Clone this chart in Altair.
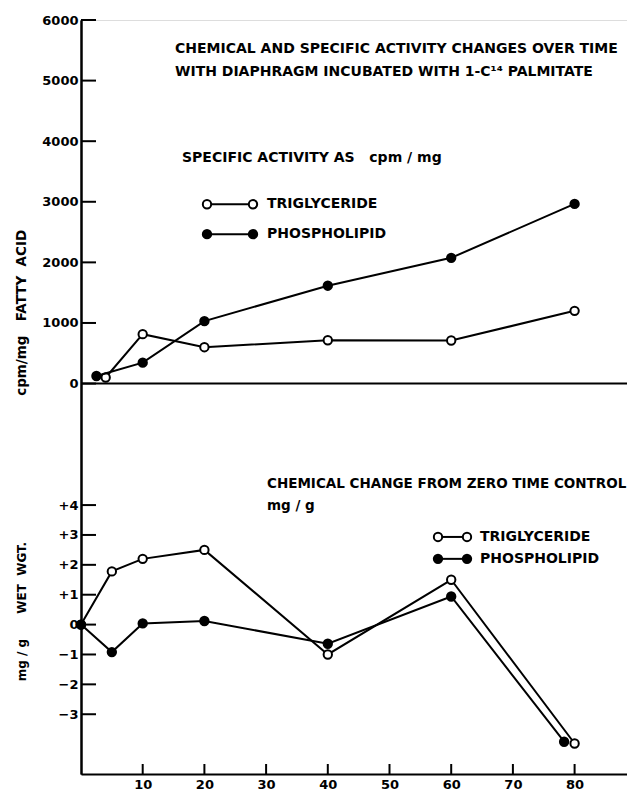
import altair as alt
import pandas as pd

# ---------------- data ----------------
time_tg_sa = [4, 10, 20, 40, 60, 80]
tg_sa = [100, 815, 600, 715, 710, 1200]
time_pl_sa = [2.5, 10, 20, 40, 60, 80]
pl_sa = [125, 345, 1030, 1615, 2075, 2965]

time_tg_ch = [0, 5, 10, 20, 40, 60, 80]
tg_ch = [0, 1.78, 2.2, 2.5, -1.0, 1.5, -3.98]
time_pl_ch = [0, 5, 10, 20, 40, 60, 78.3]
pl_ch = [0, -0.92, 0.04, 0.12, -0.64, 0.94, -3.92]

top_ticks = [0, 1000, 2000, 3000, 4000, 5000, 6000]
bot_ticks = [-3, -2, -1, 0, 1, 2, 3, 4]
x_ticks = [10, 20, 30, 40, 50, 60, 70, 80]

# ---------------- layout ----------------
REF_H = 757.0
W, H = 546, 754
S = H / REF_H
FONT = "DejaVu Sans"
NB = "\u00a0"
X_DOMAIN = [0, W / 6.17]
TOP_ZERO_PX = 365 * S
TOP_DOMAIN = [-(H - TOP_ZERO_PX) / TOP_ZERO_PX * 6000, 6000]
BOT_ZERO_PX = 607 * S
PX_PER = 30.0 * S
BOT_DOMAIN = [-(H - BOT_ZERO_PX) / PX_PER, BOT_ZERO_PX / PX_PER]

xs = alt.Scale(domain=X_DOMAIN, nice=False, zero=False)
ys_top = alt.Scale(domain=TOP_DOMAIN, nice=False, zero=False)
ys_bot = alt.Scale(domain=BOT_DOMAIN, nice=False, zero=False)

AX = dict(ticks=False, domain=True, domainColor="black", domainWidth=2,
          labelFont=FONT, labelFontWeight="bold", labelFontSize=13,
          labelColor="black", title=None, grid=False, labelFlush=False)
X_AXIS = alt.Axis(values=x_ticks, labelPadding=4, orient="bottom", **AX)

df_tg_sa = pd.DataFrame({"t": time_tg_sa, "v": tg_sa})
df_pl_sa = pd.DataFrame({"t": time_pl_sa, "v": pl_sa})
df_tg_ch = pd.DataFrame({"t": time_tg_ch, "v": tg_ch})
df_pl_ch = pd.DataFrame({"t": time_pl_ch, "v": pl_ch})
one = pd.DataFrame({"a": [0]})

def X():
    return alt.X("t:Q", scale=xs, axis=X_AXIS)

def series(df, ys, filled):
    line = alt.Chart(df).mark_line(color="black", strokeWidth=2).encode(
        x=X(), y=alt.Y("v:Q", scale=ys, axis=None))
    pts = alt.Chart(df).mark_point(
        shape="circle", filled=True, fill="black" if filled else "white",
        stroke="black", strokeWidth=2, size=70, opacity=1).encode(
        x=X(), y=alt.Y("v:Q", scale=ys, axis=None))
    return [line, pts]

layers = []

# x axis with inward ticks
layers.append(alt.Chart(pd.DataFrame({"t": x_ticks})).mark_rule(color="black", strokeWidth=2).encode(
    x=X(), y=alt.value(H), y2=alt.value(H - 10)))

# top y axis with inward ticks
layers.append(alt.Chart(pd.DataFrame({"v": top_ticks})).mark_rule(color="black", strokeWidth=2).encode(
    x=alt.value(0), x2=alt.value(15),
    y=alt.Y("v:Q", scale=ys_top, axis=alt.Axis(
        values=top_ticks, format="d", labelPadding=3, orient="left", **AX))))

# bottom y axis with inward ticks
layers.append(alt.Chart(pd.DataFrame({"v": bot_ticks})).mark_rule(color="black", strokeWidth=2).encode(
    x=alt.value(0), x2=alt.value(15),
    y=alt.Y("v:Q", scale=ys_bot, axis=alt.Axis(
        values=bot_ticks, format="d", labelPadding=3, orient="left",
        labelExpr="datum.value > 0 ? '+' + datum.label : datum.label", **AX))))

# top panel baseline at zero
layers.append(alt.Chart(pd.DataFrame({"v": [0]})).mark_rule(color="black", strokeWidth=2).encode(
    x=alt.value(0), x2=alt.value(W), y=alt.Y("v:Q", scale=ys_top, axis=None)))

layers += series(df_tg_sa, ys_top, False)
layers += series(df_pl_sa, ys_top, True)
layers += series(df_tg_ch, ys_bot, False)
layers += series(df_pl_ch, ys_bot, True)

# ---------------- annotations ----------------
def txt(s, x, y, size=14, angle=0, align="left"):
    return alt.Chart(one).mark_text(
        text=s, font=FONT, fontWeight="bold", fontSize=size, color="black",
        align=align, baseline="middle", angle=angle).encode(
        x=alt.value(x), y=alt.value(y * S))

layers.append(txt("CHEMICAL AND SPECIFIC ACTIVITY CHANGES OVER TIME", 94, 29))
layers.append(txt("WITH DIAPHRAGM INCUBATED WITH 1-C¹⁴ PALMITATE", 94, 52))
layers.append(txt("SPECIFIC ACTIVITY AS" + NB * 3 + "cpm / mg", 101, 139))
layers.append(txt("CHEMICAL CHANGE FROM ZERO TIME CONTROL", 186, 466, size=13.5))
layers.append(txt("mg / g", 186, 488, size=13.5))
layers.append(txt("cpm/mg" + NB * 3 + "FATTY" + NB * 2 + "ACID", -59, 294, size=13.5, angle=270, align="center"))
layers.append(txt("mg" + NB + "/" + NB + "g" + NB * 6 + "WET" + NB * 2 + "WGT.", -59, 594, size=12, angle=270, align="center"))

def legend_row(x1, x2, y, tx, label, filled):
    out = [alt.Chart(one).mark_rule(color="black", strokeWidth=2).encode(
        x=alt.value(x1), x2=alt.value(x2), y=alt.value(y * S))]
    for xx in (x1, x2):
        out.append(alt.Chart(one).mark_point(
            shape="circle", filled=True, fill="black" if filled else "white",
            stroke="black", strokeWidth=2, size=70, opacity=1).encode(
            x=alt.value(xx), y=alt.value(y * S)))
    out.append(txt(label, tx, y))
    return out

layers += legend_row(126, 172, 185, 186, "TRIGLYCERIDE", False)
layers += legend_row(126, 172, 215, 186, "PHOSPHOLIPID", True)
layers += legend_row(357, 386, 519, 399, "TRIGLYCERIDE", False)
layers += legend_row(357, 386, 541, 399, "PHOSPHOLIPID", True)

chart = alt.layer(*layers).resolve_scale(y="independent").properties(
    width=W, height=H,
    autosize=alt.AutoSizeParams(type="none"),
    padding={"left": 73, "top": 12, "right": 0, "bottom": 16},
).configure_view(stroke=None).configure(background="white")

chart.save("out.html", embed_options={"renderer": "svg", "actions": False})
